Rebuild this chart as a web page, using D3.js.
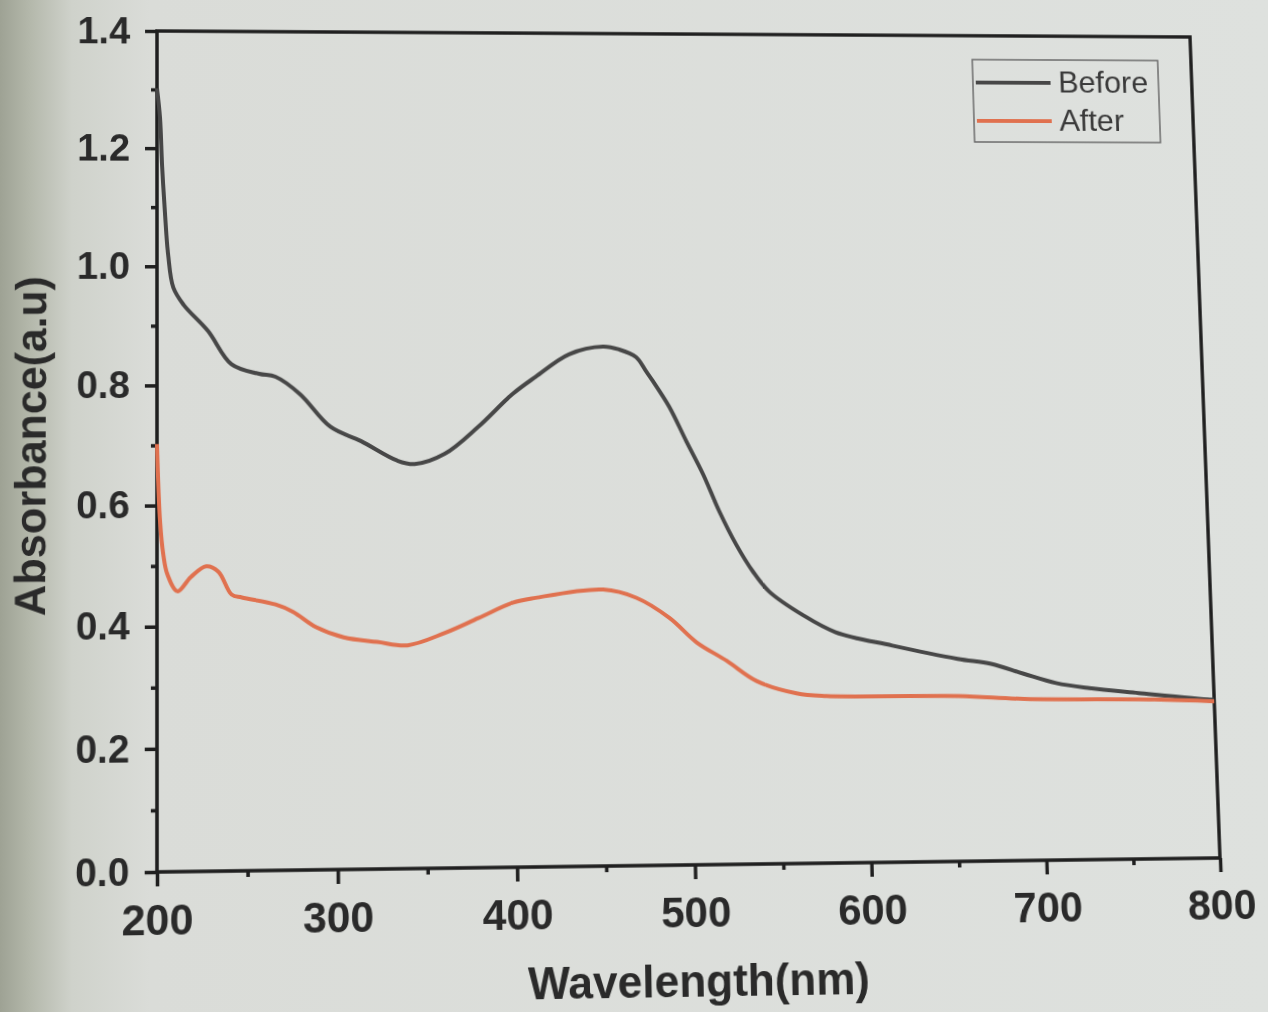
<!DOCTYPE html>
<html><head><meta charset="utf-8">
<script src="https://cdn.jsdelivr.net/npm/d3@7"></script>
<style>
html,body{margin:0;padding:0;overflow:hidden;width:1268px;height:1012px;
  background:linear-gradient(to right,#9ea294 0px,#b4b8ab 30px,#cfd2cb 72px,#dadcd8 150px,#dee1de 100%)}
#chart{display:block;transform-origin:0 0}
</style>
</head><body><svg id="chart" width="1268" height="1012"></svg>
<script>
// ---- data ----
const beforeWl  = [200, 201.7, 202.9, 204.6, 206.3, 209.2, 215.0, 228.7, 241.9, 257.4, 266.6, 280.3, 297.4, 314.5, 335.0, 344.8, 361.9, 381.0, 400.7, 414.0, 433.2, 452.8, 462.0, 471.6, 477.2, 481.1, 490.1, 499.5, 508.8, 517.6, 526.9, 536.3, 545.2, 564.3, 582.8, 615.1, 652.4, 671.6, 690.2, 708.7, 727.9, 756.3, 797.6, 800];
const beforeAbs = [1.302, 1.252, 1.169, 1.085, 1.019, 0.964, 0.935, 0.891, 0.835, 0.819, 0.814, 0.785, 0.730, 0.706, 0.673, 0.667, 0.684, 0.729, 0.784, 0.813, 0.851, 0.864, 0.859, 0.846, 0.822, 0.805, 0.762, 0.704, 0.648, 0.586, 0.530, 0.484, 0.451, 0.411, 0.382, 0.359, 0.336, 0.327, 0.310, 0.294, 0.285, 0.276, 0.264, 0.264];
const afterWl   = [200, 201.7, 203.5, 205.8, 211.4, 218.8, 227.4, 234.2, 241.6, 247.3, 266.1, 275.7, 288.8, 304.1, 322.9, 339.9, 361.0, 379.9, 399.3, 412.4, 450.7, 469.4, 488.1, 503.3, 520.2, 537.0, 559.6, 576.6, 652.4, 690.2, 765.2, 800];
const afterAbs  = [0.702, 0.574, 0.519, 0.486, 0.458, 0.481, 0.499, 0.490, 0.452, 0.447, 0.435, 0.423, 0.397, 0.380, 0.372, 0.366, 0.386, 0.410, 0.435, 0.443, 0.456, 0.442, 0.408, 0.367, 0.336, 0.302, 0.281, 0.276, 0.274, 0.268, 0.265, 0.261];
const seriesNames  = ["Before", "After"];
const seriesColors = ["#474747", "#e0714f"];
const xTicks = [200, 300, 400, 500, 600, 700, 800];
const xMinorTicks = [250, 350, 450, 550, 650, 750];
const yTicks = [0.0, 0.2, 0.4, 0.6, 0.8, 1.0, 1.2, 1.4];
const yMinorTicks = [0.1, 0.3, 0.5, 0.7, 0.9, 1.1, 1.3];
const xTitle = "Wavelength(nm)";
const yTitle = "Absorbance(a.u)";

// ---- drawing ----
const svg = d3.select('#chart');
const L = 157, R = 1220, T = 31, B = 872;
const x = d3.scaleLinear().domain([200, 800]).range([L, R]);
const y = d3.scaleLinear().domain([0, 1.4]).range([B, T]);
const font = "'Liberation Sans', Arial, sans-serif";
const axisColor = '#1f1f1f';

// frame
svg.append('rect').attr('x', L).attr('y', T).attr('width', R - L).attr('height', B - T)
  .attr('fill', 'none').attr('stroke', axisColor).attr('stroke-width', 3.5);

// minor ticks
const xMinor = svg.append('g').attr('transform', `translate(0,${B})`)
  .call(d3.axisBottom(x).tickValues(xMinorTicks).tickSize(6).tickFormat(''));
const yMinor = svg.append('g').attr('transform', `translate(${L},0)`)
  .call(d3.axisLeft(y).tickValues(yMinorTicks).tickSize(6).tickFormat(''));
// major ticks
const xAxis = svg.append('g').attr('transform', `translate(0,${B})`)
  .call(d3.axisBottom(x).tickValues(xTicks).tickSize(14).tickPadding(17).tickFormat(d3.format('d')));
const yAxis = svg.append('g').attr('transform', `translate(${L},0)`)
  .call(d3.axisLeft(y).tickValues(yTicks).tickSize(12).tickPadding(15).tickFormat(d3.format('.1f')));
[xMinor, yMinor, xAxis, yAxis].forEach(a => {
  a.select('.domain').remove();
  a.selectAll('line').attr('stroke', axisColor).attr('stroke-width', 3.5);
});
xAxis.selectAll('text').attr('font-family', font).attr('font-weight', 'bold').attr('font-size', 42).attr('fill', '#2a2a2a');
yAxis.selectAll('text').attr('font-family', font).attr('font-weight', 'bold').attr('font-size', 38).attr('fill', '#2a2a2a');

// axis titles
svg.append('text').attr('x', 691).attr('y', 1001).attr('text-anchor', 'middle')
  .attr('font-family', font).attr('font-weight', 'bold').attr('font-size', 44).attr('fill', '#2a2a2a').text(xTitle);
svg.append('text').attr('transform', 'translate(47,451) rotate(-90)').attr('text-anchor', 'middle')
  .attr('font-family', font).attr('font-weight', 'bold').attr('font-size', 43).attr('fill', '#2a2a2a').text(yTitle);

// curves
const line = d3.line().x(d => x(d[0])).y(d => y(d[1])).curve(d3.curveCatmullRom.alpha(0.5));
const series = [d3.zip(beforeWl, beforeAbs), d3.zip(afterWl, afterAbs)];
series.forEach((s, i) => {
  svg.append('path').datum(s).attr('d', line).attr('fill', 'none')
    .attr('stroke', seriesColors[i]).attr('stroke-width', 4).attr('stroke-linejoin', 'round');
});

// legend
const lg = svg.append('g');
lg.append('rect').attr('x', 991).attr('y', 56).attr('width', 194).attr('height', 86)
  .attr('fill', 'none').attr('stroke', '#6a6a6a').attr('stroke-width', 1.5);
seriesNames.forEach((n, i) => {
  const yy = 80 + i * 40;
  lg.append('line').attr('x1', 994).attr('x2', 1072).attr('y1', yy).attr('y2', yy)
    .attr('stroke', seriesColors[i]).attr('stroke-width', 4);
  lg.append('text').attr('x', 1080).attr('y', yy + 10).attr('font-family', font)
    .attr('font-size', 32).attr('fill', '#3a3a3a').text(n);
});

// ---- photo perspective: map the plot rectangle onto the photographed frame ----
function adj(m) {
  return [m[4]*m[8]-m[5]*m[7], m[2]*m[7]-m[1]*m[8], m[1]*m[5]-m[2]*m[4],
          m[5]*m[6]-m[3]*m[8], m[0]*m[8]-m[2]*m[6], m[2]*m[3]-m[0]*m[5],
          m[3]*m[7]-m[4]*m[6], m[1]*m[6]-m[0]*m[7], m[0]*m[4]-m[1]*m[3]];
}
function mulMM(a, b) {
  const c = new Array(9);
  for (let i = 0; i < 3; i++) for (let j = 0; j < 3; j++) {
    let s = 0; for (let k = 0; k < 3; k++) s += a[3*i+k] * b[3*k+j]; c[3*i+j] = s;
  }
  return c;
}
function mulMV(m, v) {
  return [m[0]*v[0]+m[1]*v[1]+m[2]*v[2], m[3]*v[0]+m[4]*v[1]+m[5]*v[2], m[6]*v[0]+m[7]*v[1]+m[8]*v[2]];
}
function basis(p) {
  const m = [p[0][0], p[1][0], p[2][0], p[0][1], p[1][1], p[2][1], 1, 1, 1];
  const v = mulMV(adj(m), [p[3][0], p[3][1], 1]);
  return mulMM(m, [v[0], 0, 0, 0, v[1], 0, 0, 0, v[2]]);
}
const src = [[L, T], [R, T], [L, B], [R, B]];
const dst = [[157, 31], [1190, 37], [157, 872], [1220, 858]];
let t = mulMM(basis(dst), adj(basis(src)));
t = t.map(v => v / t[8]);
const m3d = [t[0], t[3], 0, t[6], t[1], t[4], 0, t[7], 0, 0, 1, 0, t[2], t[5], 0, t[8]];
document.getElementById('chart').style.transform = `matrix3d(${m3d.join(',')})`;
</script></body></html>
